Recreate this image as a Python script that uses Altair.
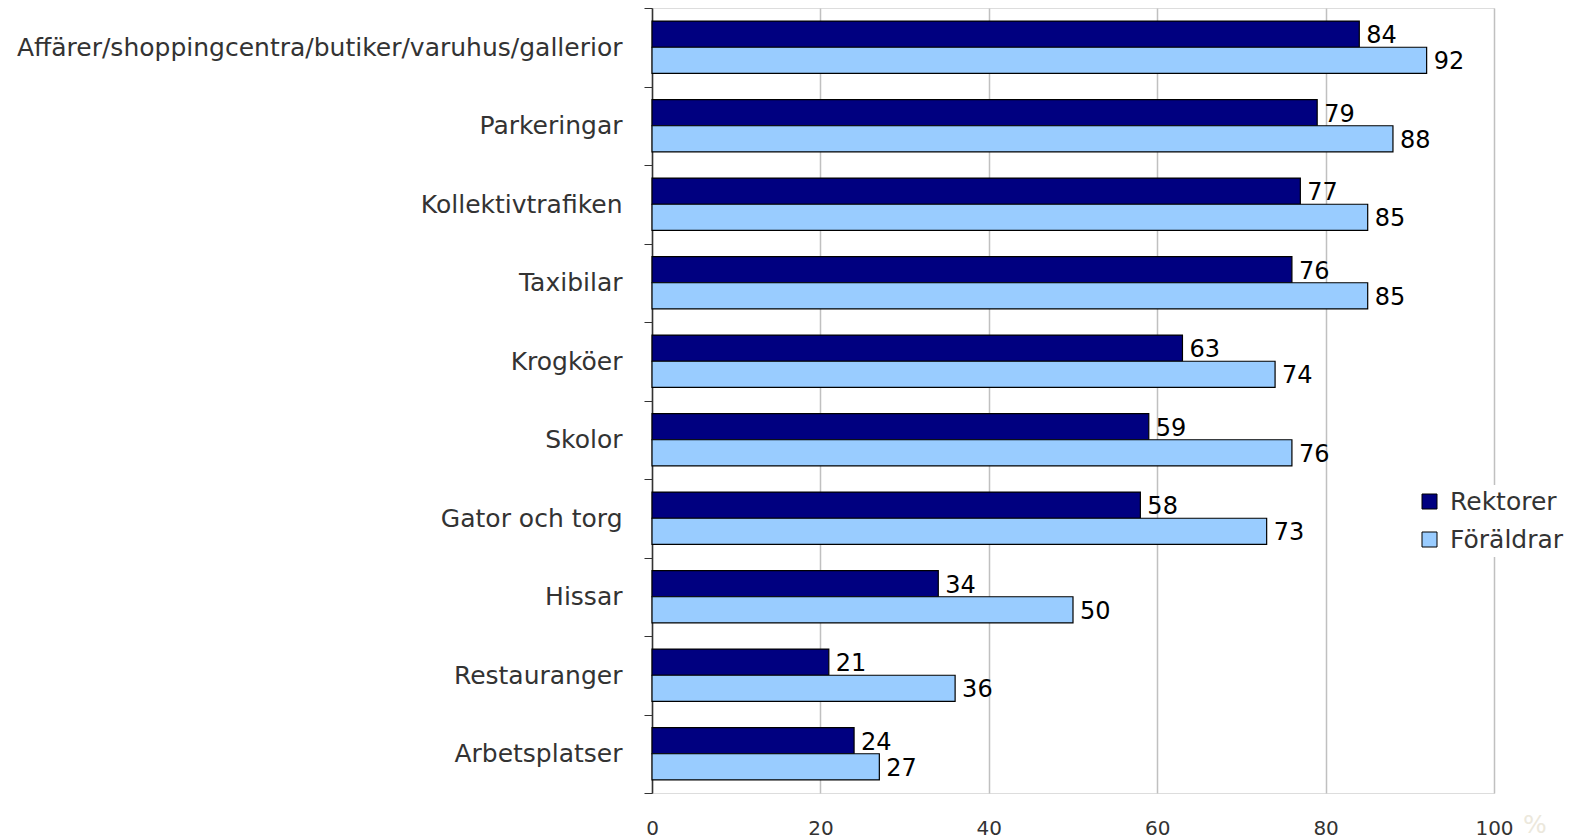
import altair as alt
import pandas as pd

categories = [
    "Affärer/shoppingcentra/butiker/varuhus/gallerior",
    "Parkeringar",
    "Kollektivtrafiken",
    "Taxibilar",
    "Krogköer",
    "Skolor",
    "Gator och torg",
    "Hissar",
    "Restauranger",
    "Arbetsplatser",
]
series = ["Rektorer", "Föräldrar"]
rektorer = [84, 79, 77, 76, 63, 59, 58, 34, 21, 24]
foraldrar = [92, 88, 85, 85, 74, 76, 73, 50, 36, 27]
x_ticks = [0, 20, 40, 60, 80, 100]
colors = ["#000080", "#99CCFF"]

rows = []
for c, r, f in zip(categories, rektorer, foraldrar):
    rows.append({"cat": c, "series": "Rektorer", "value": r})
    rows.append({"cat": c, "series": "Föräldrar", "value": f})
df = pd.DataFrame(rows)

FONT = "DejaVu Sans"
W, H = 842, 785

y_enc = alt.Y(
    "cat:N",
    sort=categories,
    scale=alt.Scale(paddingInner=0, paddingOuter=0),
    axis=alt.Axis(
        title=None,
        tickBand="extent",
        tickSize=8,
        tickColor="#333333",
        domainColor="#333333",
        domainWidth=1.5,
        labelFont=FONT,
        labelFontSize=25,
        labelColor="#333333",
        labelPadding=22,
        grid=False,
        labelLimit=900,
    ),
)
yoff = alt.YOffset(
    "series:N",
    sort=series,
    scale=alt.Scale(domain=series, paddingOuter=0.5, paddingInner=0),
)
x_enc = alt.X(
    "value:Q",
    scale=alt.Scale(domain=[0, 100], nice=False),
    axis=alt.Axis(
        title=None,
        values=x_ticks,
        domain=False,
        ticks=False,
        grid=True,
        gridColor="#c0c0c0",
        gridWidth=1.5,
        labelFont=FONT,
        labelFontSize=20,
        labelColor="#333333",
        labelPadding=25,
        labelFlush=False,
    ),
)

base = alt.Chart(df)

bars = base.mark_bar(stroke="black", strokeWidth=1.2).encode(
    x=x_enc,
    y=y_enc,
    yOffset=yoff,
    color=alt.Color(
        "series:N",
        sort=series,
        scale=alt.Scale(domain=series, range=colors),
        legend=alt.Legend(
            title=None,
            orient="none",
            legendX=761,
            legendY=477,
            symbolType="square",
            symbolSize=225,
            symbolStrokeColor="black",
            symbolStrokeWidth=1,
            labelFont=FONT,
            labelFontSize=25,
            labelColor="#333333",
            rowPadding=12,
            fillColor="white",
            padding=4,
            labelOffset=8,
        ),
    ),
)

labels = base.mark_text(
    align="left", baseline="middle", dx=7, dy=2, font=FONT, fontSize=24, color="black"
).encode(
    x="value:Q",
    y=alt.Y("cat:N", sort=categories),
    yOffset=alt.YOffset("series:N", sort=series),
    text="value:Q",
)

pct = alt.Chart(pd.DataFrame({"v": [100], "t": ["%"]})).mark_text(
    align="left", baseline="alphabetic", font=FONT, fontSize=25, color="#ece8dc", dx=29
).encode(
    x=alt.X("v:Q"),
    y=alt.value(H + 40),
    text="t:N",
)

chart = (
    alt.layer(bars, labels, pct)
    .properties(
        width=W,
        height=H,
        autosize=alt.AutoSizeParams(type="none"),
        padding={"left": 644, "top": 0, "right": 72, "bottom": 45},
    )
    .configure_view(stroke=None)
    .configure(font=FONT)
)

chart.save("out.html", embed_options={"renderer": "svg", "actions": False})
